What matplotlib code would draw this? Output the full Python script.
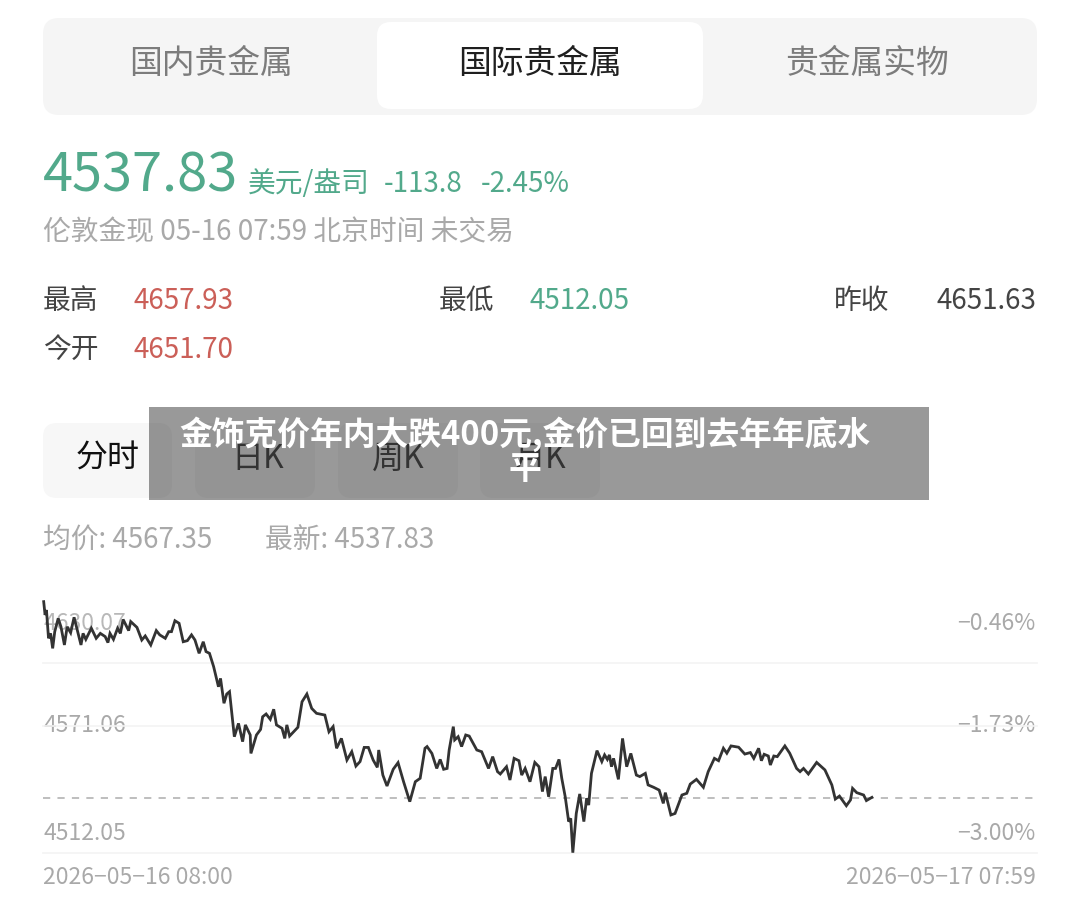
import matplotlib
matplotlib.use("Agg")
import matplotlib.pyplot as plt
from matplotlib.patches import FancyBboxPatch, Rectangle

plt.rcParams['font.family'] = ['Noto Sans CJK SC', 'DejaVu Sans']

minutes = [1,3,5,8,11,14,17,22,26,31,35,40,45,49,55,58,62,70,77,83,90,94,97,102,108,112,116,124,127,136,
           143,148,156,164,169,177,182,186,191,197,203,209,215,220,226,232,236,241,247,254,257,262,266,270,277,283,289,293,300,301,
           309,315,318,323,329,334,338,346,350,353,357,369,375,382,389,396,408,414,420,425,432,440,447,453,459,465,471,478,484,
           486,492,498,507,514,522,531,539,546,553,556,563,570,575,580,585,588,594,596,601,606,612,617,628,635,
           645,651,658,662,671,676,682,689,693,698,705,712,718,723,727,732,738,742,747,751,756,761,764,767,772,777,783,787,790,794,
           802,809,813,817,820,823,826,833,839,845,851,859,864,872,876,884,892,898,901,909,915,925,932,937,946,956,963,972,
           978,985,990,996,1007,1016,1024,1029,1036,1040,1044,1050,1053,1058,1063,1074,1081,1091,1096,1101,1108,1120,1132,1142,1147,1153,1163,1169,1172,1178,1188,1192,1200]
prices = [4629.3,4623.1,4625.4,4612.2,4614.5,4607.5,4615.3,4621.5,4617.6,4609.1,4617.6,4614.8,4622.0,4616.9,4609.1,4614.5,4611.7,4616.9,4612.2,4614.5,4613.0,4610.2,4614.5,4611.7,4616.9,4614.5,4621.0,4615.8,4620.0,4617.3,
          4611.4,4613.3,4609.1,4615.8,4613.8,4612.2,4615.3,4615.3,4620.4,4619.2,4610.6,4611.1,4613.8,4611.4,4605.2,4610.6,4606.0,4605.2,4599.0,4589.6,4593.5,4581.9,4586.2,4587.3,4566.3,4572.5,4564.0,4571.8,4567.1,4558.5,
          4567.1,4569.7,4575.6,4576.9,4574.4,4579.1,4571.8,4570.2,4565.5,4571.8,4566.6,4570.7,4582.6,4586.2,4579.5,4577.2,4576.4,4568.6,4571.0,4560.9,4565.5,4555.4,4559.3,4552.6,4554.7,4561.3,4561.3,4555.4,4552.0,
          4560.1,4548.4,4543.3,4551.1,4554.2,4545.3,4536.0,4545.3,4546.9,4560.9,4561.7,4558.5,4551.5,4555.7,4551.1,4551.5,4560.1,4571.0,4564.8,4566.3,4561.7,4567.1,4566.6,4560.1,4559.3,
          4551.5,4557.0,4550.0,4548.9,4552.3,4546.1,4556.2,4555.1,4548.4,4551.5,4545.3,4554.3,4552.3,4540.7,4547.7,4538.3,4551.5,4551.5,4555.7,4546.9,4538.3,4526.7,4528.2,4512.2,4530.5,4539.6,4526.7,4537.6,4534.4,4549.2,
          4559.8,4554.7,4557.8,4555.7,4557.8,4552.3,4556.2,4546.4,4565.5,4552.3,4558.5,4548.4,4547.7,4549.2,4543.8,4542.7,4541.4,4535.2,4540.2,4529.8,4530.5,4539.1,4539.9,4544.2,4546.4,4542.7,4550.0,4556.2,
          4555.1,4560.9,4558.6,4562.0,4561.4,4558.2,4558.9,4556.2,4560.9,4555.1,4558.1,4557.3,4553.1,4557.3,4557.0,4562.0,4558.6,4551.5,4550.0,4551.5,4548.9,4554.3,4550.8,4543.8,4537.2,4538.6,4534.1,4536.8,4542.2,4540.2,4539.1,4536.5,4538.0]

tabs = ['国内贵金属', '国际贵金属', '贵金属实物']
periods = ['分时', '日K', '周K', '月K']
y_left = ['4630.07', '4571.06', '4512.05']
y_right = ['−0.46%', '−1.73%', '−3.00%']
x_labels = ['2026−05−16 08:00', '2026−05−17 07:59']
grid_prices = [4600.6, 4571.06, 4512.05]
latest = 4537.83
y_top, y_bottom = 4630.07, 4512.05
title_lines = ['金饰克价年内大跌400元,金价已回到去年年底水', '平']

GREEN, RED, GRAY, DARK = '#52a98b', '#cb5f58', '#a9a9a9', '#333333'

fig = plt.figure(figsize=(10.8, 9.07), dpi=100, facecolor='white')
ui = fig.add_axes([0, 0, 1, 1], zorder=0)
ui.set_xlim(0, 1080); ui.set_ylim(907, 0); ui.axis('off')

def box(x0, y0, x1, y1, color, r=12, z=1):
    ui.add_patch(FancyBboxPatch((x0 + r, y0 + r), x1 - x0 - 2*r, y1 - y0 - 2*r,
                                boxstyle=f'round,pad={r},rounding_size={r}', fc=color, ec='none', zorder=z))

def t(x, y, s, size, color, ha='left', weight='normal', z=3):
    ui.text(x, y, s, fontsize=size, color=color, ha=ha, va='center', fontweight=weight, zorder=z)

box(43, 18, 1037, 115, '#f5f5f5', 16)
box(377, 22, 703, 109, '#ffffff', 14, 2)
t(211, 64, tabs[0], 23.6, '#7c7c7c', 'center')
t(540, 64, tabs[1], 23.6, '#1f1f1f', 'center', 'medium')
t(867, 64, tabs[2], 23.6, '#7c7c7c', 'center')

t(43, 176, '4537.83', 39, GREEN, weight='medium')
t(248, 184, '美元/盎司', 20, GREEN)
t(384, 184, '-113.8', 20, GREEN)
t(481, 184, '-2.45%', 20, GREEN)
t(43, 232, '伦敦金现 05-16 07:59 北京时间 未交易', 20, GRAY)

t(43, 301, '最高', 20, '#444444')
t(133, 301, '4657.93', 20, RED)
t(439, 301, '最低', 20, '#444444')
t(529, 301, '4512.05', 20, GREEN)
t(834, 301, '昨收', 20, '#444444')
t(1036, 301, '4651.63', 20, '#444444', 'right')
t(43, 350, '今开', 20, '#444444')
t(133, 350, '4651.70', 20, RED)

for x0, x1 in [(43, 172), (195, 315), (338, 458), (480, 600)]:
    box(x0, 423, x1, 498, '#f7f7f7', 14)
t(108, 459, periods[0], 23, '#111111', 'center')
t(258, 459, periods[1], 23, '#555555', 'center')
t(398, 459, periods[2], 23, '#555555', 'center')
t(539, 459, periods[3], 23, '#555555', 'center')

ui.add_patch(Rectangle((149, 407), 780, 93, fc='black', alpha=0.4, ec='none', zorder=5))
t(525, 434, title_lines[0], 23.6, 'white', 'center', 'bold', 6)
t(525, 470, title_lines[1], 23.6, 'white', 'center', 'bold', 6)

t(43, 540, '均价: 4567.35', 20, GRAY)
t(265, 540, '最新: 4537.83', 20, GRAY)

t(43, 624, y_left[0], 16.5, '#b8b8b8')
t(43, 726, y_left[1], 16.5, GRAY)
t(43, 834, y_left[2], 16.5, GRAY)
t(1035, 624, y_right[0], 16.5, GRAY, 'right')
t(1035, 726, y_right[1], 16.5, GRAY, 'right')
t(1035, 834, y_right[2], 16.5, GRAY, 'right')
t(43, 877, x_labels[0], 16.5, GRAY)
t(1036, 877, x_labels[1], 16.5, GRAY, 'right')

# chart: x 43..1037 px, y 600..853 px of the 1080x907 canvas
ax = fig.add_axes([43/1080, 1 - 853/907, 994/1080, 253/907], zorder=1)
ax.patch.set_alpha(0)
ax.set_xlim(0, 1439); ax.set_ylim(y_bottom, y_top)
ax.axis('off')
for g in grid_prices:
    ax.axhline(g, color='#f3f3f3', lw=1.2, zorder=1, clip_on=False)
ax.axhline(latest, color='#b9b9b9', lw=1.3, ls=(0, (4, 4)), zorder=2)
ax.plot(minutes, prices, color=DARK, lw=2.0, solid_joinstyle='miter', zorder=3, clip_on=False)

fig.savefig('out.png', dpi=100)
